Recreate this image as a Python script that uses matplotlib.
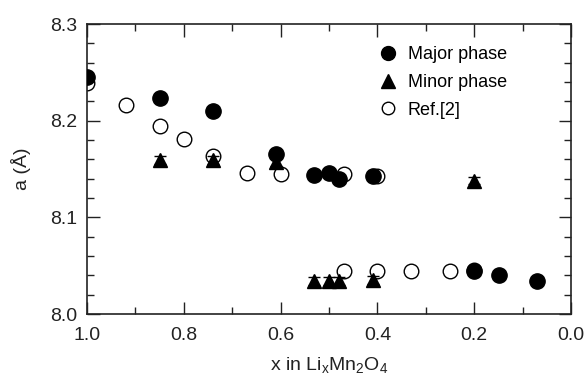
import matplotlib
matplotlib.use('Agg')
import matplotlib.pyplot as plt
from matplotlib.lines import Line2D
from matplotlib.ticker import MultipleLocator

plt.rcParams['font.family'] = ['Liberation Sans', 'DejaVu Sans']

# lattice parameter of the major phase
major_x = [1.00, 0.85, 0.74, 0.61, 0.53, 0.50, 0.48, 0.41, 0.20, 0.15, 0.07]
major_a = [8.245, 8.224, 8.210, 8.166, 8.144, 8.146, 8.140, 8.143, 8.045, 8.040, 8.034]
major_err = [0.0, 0.003, 0.003, 0.003, 0.0, 0.0, 0.0, 0.0, 0.002, 0.0, 0.0]

# lattice parameter of the minor phase
minor_x = [0.85, 0.74, 0.61, 0.20, 0.53, 0.50, 0.48, 0.41]
minor_a = [8.159, 8.159, 8.157, 8.138, 8.034, 8.034, 8.034, 8.035]
minor_err = [0.004, 0.004, 0.004, 0.004, 0.004, 0.004, 0.004, 0.004]

# literature values
ref_x = [1.00, 0.92, 0.85, 0.80, 0.74, 0.67, 0.60, 0.47, 0.40,
         0.47, 0.40, 0.33, 0.25, 0.20]
ref_a = [8.239, 8.216, 8.195, 8.181, 8.164, 8.146, 8.145, 8.145, 8.143,
         8.045, 8.045, 8.045, 8.045, 8.046]

fig = plt.figure(figsize=(5.87, 3.82), dpi=100)
ax = fig.add_axes([0.148, 0.178, 0.825, 0.759])

ax.plot(ref_x, ref_a, 'o', ms=10.5, mfc='white', mec='black', mew=1.0, zorder=2)
ax.errorbar(minor_x, minor_a, yerr=minor_err, fmt='^', ms=10.5, color='black',
            ecolor='black', elinewidth=1.0, capsize=4, capthick=1.0, zorder=3)
ax.errorbar(major_x, major_a, yerr=major_err, fmt='o', ms=11, color='black',
            ecolor='black', elinewidth=1.0, capsize=4, capthick=1.0, zorder=4)

ax.set_xlim(1.0, 0.0)
ax.set_ylim(8.0, 8.3)
ax.xaxis.set_major_locator(MultipleLocator(0.2))
ax.xaxis.set_minor_locator(MultipleLocator(0.1))
ax.yaxis.set_major_locator(MultipleLocator(0.1))
ax.yaxis.set_minor_locator(MultipleLocator(0.02))
ax.xaxis.set_major_formatter(plt.FormatStrFormatter('%.1f'))
ax.yaxis.set_major_formatter(plt.FormatStrFormatter('%.1f'))
ax.tick_params(which='both', direction='in', top=True, right=True,
               labelsize=14, width=1.0, colors='#222222', labelcolor='#222222')
ax.tick_params(which='major', length=9)
ax.tick_params(axis='x', which='major', pad=9)
ax.tick_params(axis='y', which='major', pad=7)
ax.tick_params(which='minor', length=5)
for s in ax.spines.values():
    s.set_linewidth(1.2)
    s.set_color('#222222')

ax.set_xlabel(r'x in Li$_\mathregular{x}$Mn$_\mathregular{2}$O$_\mathregular{4}$',
              fontsize=14, color='#222222', labelpad=9)
ax.set_ylabel('a (Å)', fontsize=14, color='#222222', labelpad=14)

handles = [
    Line2D([], [], ls='none', marker='o', ms=10, color='black'),
    Line2D([], [], ls='none', marker='^', ms=10, color='black'),
    Line2D([], [], ls='none', marker='o', ms=9, mfc='white', mec='black', mew=1.0),
]
labels = ['Major phase', 'Minor phase', 'Ref.[2]']
ax.legend(handles, labels, loc='upper left', bbox_to_anchor=(0.569, 0.974),
          frameon=False, fontsize=13, handletextpad=0.5, labelspacing=0.6,
          handlelength=1.2, borderpad=0.3)

fig.savefig('out.png', dpi=100)
